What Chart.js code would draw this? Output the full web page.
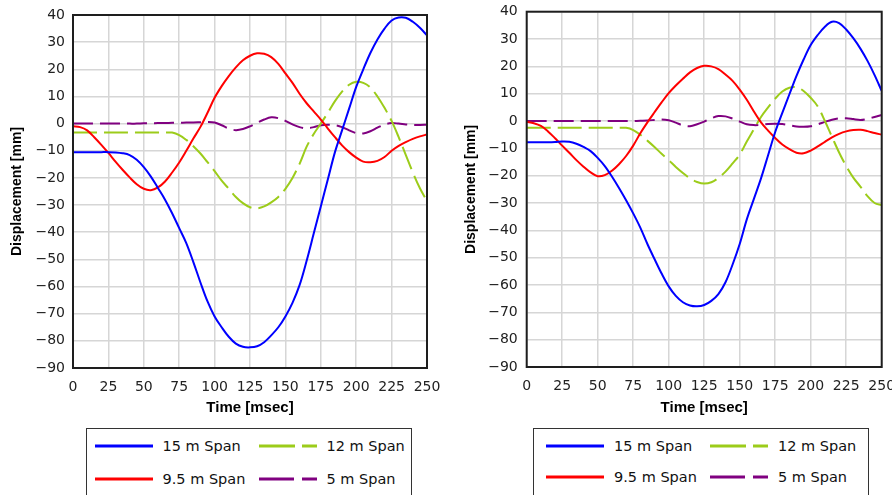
<!DOCTYPE html>
<html>
<head>
<meta charset="utf-8">
<script src="https://cdn.jsdelivr.net/npm/chart.js@4.4.0/dist/chart.umd.min.js"></script>
<style>
  html, body { margin: 0; padding: 0; background: #fff; width: 892px; height: 495px; overflow: hidden; }
  .panel { position: absolute; top: 0; width: 446px; height: 420px; }
  .legend { position: absolute; top: 428px; height: 90px; box-sizing: border-box; border: 1.5px solid #333; background: #fff;
            font: 14.5px "DejaVu Sans", sans-serif; color: #111; }
  .item { position: absolute; height: 20px; display: flex; align-items: center; white-space: nowrap; }
  .item svg { margin-right: 10px; flex: none; }
</style>
</head>
<body>
<div class="panel" style="left:0"><canvas id="chart-left" width="446" height="420"></canvas></div>
<div class="panel" style="left:446px"><canvas id="chart-right" width="446" height="420"></canvas></div>
<div class="legend" id="legend-left" style="left:86px;width:326px"></div>
<div class="legend" id="legend-right" style="left:533px;width:336px"></div>

<script>
// time axis (msec), sampled every 5 ms
const timeMs = [0, 5, 10, 15, 20, 25, 30, 35, 40, 45, 50, 55, 60, 65, 70, 75, 80, 85, 90, 95, 100,
  105, 110, 115, 120, 125, 130, 135, 140, 145, 150, 155, 160, 165, 170, 175, 180, 185, 190, 195, 200,
  205, 210, 215, 220, 225, 230, 235, 240, 245, 250];

const xTickValues = [0, 25, 50, 75, 100, 125, 150, 175, 200, 225, 250];
const yTickValues = [40, 30, 20, 10, 0, -10, -20, -30, -40, -50, -60, -70, -80, -90];

const seriesLabels = ['15 m Span', '9.5 m Span', '12 m Span', '5 m Span'];

// left panel displacements [mm]
const left15 = [-10.5, -10.5, -10.5, -10.5, -10.5, -10.5, -10.6, -10.9, -11.6, -13.3, -16, -19.5, -23.7, -28, -33, -38.5, -44, -51, -58.5, -65.5, -71,
  -75, -78.5, -81, -82.2, -82.4, -82, -80.5, -78, -75, -71, -66, -59.5, -50.5, -40.5, -30.5, -20.5, -10.5, -2.5, 5.5, 13.5,
  20, 26, 31, 35, 38, 39.1, 39, 37.5, 35.3, 32.5];
const left95 = [-1, -1.3, -2.5, -5, -7.8, -10.8, -14, -17, -19.8, -22.3, -24, -24.5, -23.5, -21.3, -18, -14.3, -10, -5.5, -1.2, 4, 9.5,
  13.8, 17.5, 20.7, 23.3, 25, 25.9, 25.7, 24.5, 22, 18.5, 15, 11, 7.5, 4.5, 1.5, -1.8, -5, -8, -10.5, -12.5,
  -14, -14.2, -13.7, -12.3, -10, -8.2, -6.8, -5.6, -4.7, -4];
const left12 = [-3.3, -3.3, -3.3, -3.3, -3.3, -3.3, -3.3, -3.3, -3.3, -3.3, -3.3, -3.3, -3.3, -3.3, -3.3, -4.2, -6, -8.3, -11, -14.2, -17.5,
  -21, -24, -27, -29.3, -30.8, -31.2, -30.5, -29, -27, -24, -20, -14.8, -8.5, -3.8, 0, 4, 8.3, 11.8, 14.3, 15.4,
  15, 13.3, 10, 5.8, 1, -5, -11.5, -18, -23.8, -28.5];
const left5 = [0, 0, 0, 0, 0, 0, 0, 0, 0, 0, 0.1, 0.1, 0.2, 0.2, 0.3, 0.3, 0.4, 0.4, 0.5, 0.6, 0.4,
  -0.6, -1.8, -2.4, -2, -1, 0.3, 1.5, 2.3, 2, 1, -0.3, -1.3, -1.7, -1.3, -0.6, -0.4, -0.6, -1.3, -2.5, -3.5,
  -3.6, -2.8, -1.5, -0.3, 0.2, 0, -0.3, -0.5, -0.5, -0.4];

// right panel displacements [mm]
const right15 = [-7.8, -7.8, -7.8, -7.8, -7.7, -7.5, -7.6, -8.3, -9.5, -11, -13.5, -16.5, -20.3, -24.5, -29, -33.8, -39, -45, -50.5, -55.8, -60.5,
  -64, -66.3, -67.5, -67.8, -67.3, -65.8, -63.3, -59, -52.5, -45, -36, -28.5, -21, -12.5, -4, 3, 9.8, 16.5, 22.5, 27.8,
  31.5, 34.5, 36.3, 35.8, 33.5, 30.3, 26.5, 22, 16.8, 11];
const right95 = [-0.3, -0.8, -1.8, -3.8, -6.3, -9, -11.6, -14.3, -16.7, -18.8, -20.2, -19.8, -18.2, -15.8, -12.8, -9, -4.5, -0.5, 3.2, 6.8, 10.2,
  13, 15.5, 17.8, 19.4, 20.2, 20, 19, 17, 14.7, 11.5, 7.8, 3.5, -0.5, -3.5, -6.2, -8.6, -10.3, -11.6, -11.8, -10.8,
  -9.3, -7.6, -6, -4.7, -3.8, -3.3, -3.2, -3.7, -4.4, -5];
const right12 = [-2.5, -2.5, -2.5, -2.5, -2.5, -2.5, -2.5, -2.5, -2.5, -2.5, -2.5, -2.5, -2.5, -2.5, -2.5, -3.3, -5, -7.2, -9.5, -12, -14.3,
  -16.8, -19, -21, -22.3, -22.9, -22.4, -20.8, -18.5, -15.5, -12.3, -7.5, -3, 1.5, 5, 8.2, 10.8, 12.2, 12.4, 11, 8.5,
  5.3, 0, -5.8, -11.5, -16.5, -20.7, -24, -27.5, -30, -30.8];
const right5 = [0, 0, 0, 0, 0, 0, 0, 0, 0, 0, 0, 0, 0, 0, 0, 0, 0.1, 0.2, 0.4, 0.6, 0.3,
  -0.6, -1.6, -1.9, -1.2, -0.2, 1, 1.8, 1.7, 0.9, -0.2, -1.2, -1.5, -1.4, -1.1, -1, -1.1, -1.5, -2, -2.1, -1.9,
  -1.2, -0.3, 0.5, 1, 1, 0.7, 0.4, 0.8, 1.5, 2.2];

const seriesStyle = [
  { color: '#0000ff', dash: [], legendDash: '' },
  { color: '#ff0000', dash: [], legendDash: '' },
  { color: '#9ccc1a', dash: [24, 7], legendDash: '36 7' },
  { color: '#800080', dash: [20, 7], legendDash: '35 8' }
];
// legend grid position (col, row) for each series
const legendSlots = [[0, 0], [0, 1], [1, 0], [1, 1]];

const frame = {
  id: 'frame',
  afterDraw(chart) {
    const { ctx, chartArea: a } = chart;
    ctx.save();
    ctx.strokeStyle = '#1e1e1e';
    ctx.lineWidth = 2;
    ctx.strokeRect(a.left, a.top, a.right - a.left, a.bottom - a.top);
    ctx.restore();
  }
};

const minus = v => (v < 0 ? '\u2212' + Math.abs(v) : String(v));

function makeChart(id, values, lay) {
  const datasets = values.map((vals, i) => ({
    label: seriesLabels[i],
    data: timeMs.map((t, k) => ({ x: t, y: vals[k] })),
    borderColor: seriesStyle[i].color,
    borderDash: seriesStyle[i].dash,
    borderWidth: 2,
    pointRadius: 0,
    tension: 0.35,
    fill: false
  }));
  return new Chart(document.getElementById(id), {
    type: 'line',
    data: { datasets },
    plugins: [frame],
    options: {
      responsive: false,
      animation: false,
      devicePixelRatio: 1,
      layout: { padding: lay.padding },
      plugins: { legend: { display: false }, tooltip: { enabled: false } },
      scales: {
        x: {
          type: 'linear', min: 0, max: 250,
          afterBuildTicks: s => { s.ticks = xTickValues.map(v => ({ value: v })); },
          afterFit: s => { s.height = lay.xh; s.paddingLeft = 0; s.paddingRight = 0; },
          grid: { color: '#d6d6d6', lineWidth: 1.5, drawTicks: false },
          border: { display: false },
          ticks: { padding: 11, color: '#222', maxRotation: 0, autoSkip: false,
                   font: { family: 'DejaVu Sans', size: 14 } },
          title: { display: true, text: 'Time [msec]', color: '#000', padding: { top: 0, bottom: 0 },
                   font: { family: 'Liberation Sans', size: 15, weight: 'bold' } }
        },
        y: {
          type: 'linear', min: -90, max: 40,
          afterBuildTicks: s => { s.ticks = yTickValues.map(v => ({ value: v })); },
          afterFit: s => { s.width = lay.yw; s.paddingTop = 0; s.paddingBottom = 0; },
          grid: { color: '#d6d6d6', lineWidth: 1.5, drawTicks: false },
          border: { display: false },
          ticks: { padding: lay.yPad, color: '#222', autoSkip: false, callback: minus,
                   font: { family: 'DejaVu Sans', size: 14 } },
          title: { display: true, text: 'Displacement [mm]', color: '#000', padding: { top: lay.yTitlePad, bottom: 0 },
                   font: { family: 'Liberation Sans', size: 14, weight: 'bold' } }
        }
      }
    }
  });
}

function buildLegend(id, chart, cols, rows) {
  const box = document.getElementById(id);
  chart.data.datasets.forEach((ds, i) => {
    const [c, r] = legendSlots[i];
    const st = seriesStyle[i];
    const item = document.createElement('div');
    item.className = 'item';
    item.style.left = cols[c] + 'px';
    item.style.top = (rows[r] - 10) + 'px';
    item.innerHTML = '<svg width="58" height="4"><line x1="0" y1="2" x2="58" y2="2" stroke="' + st.color +
      '" stroke-width="3"' + (st.legendDash ? ' stroke-dasharray="' + st.legendDash + '"' : '') + '/></svg>' +
      '<span>' + ds.label + '</span>';
    box.appendChild(item);
  });
}

const leftChart = makeChart('chart-left', [left15, left95, left12, left5],
  { padding: { left: 0, top: 15, right: 19, bottom: 3 }, yw: 73, xh: 49, yPad: 8, yTitlePad: 9 });
const rightChart = makeChart('chart-right', [right15, right95, right12, right5],
  { padding: { left: 0, top: 11.7, right: 10.3, bottom: 3 }, yw: 80.7, xh: 50, yPad: 9, yTitlePad: 16.6 });

buildLegend('legend-left', leftChart, [7.5, 171.5], [16.5, 49.5]);
buildLegend('legend-right', rightChart, [12, 176], [17.2, 48.2]);
</script>
</body>
</html>
